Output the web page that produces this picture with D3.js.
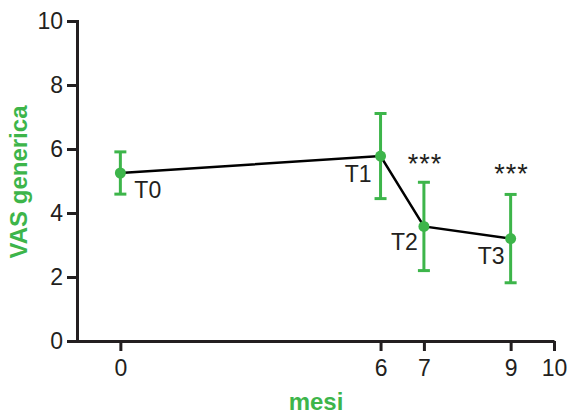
<!DOCTYPE html>
<html>
<head>
<meta charset="utf-8">
<script src="https://cdn.jsdelivr.net/npm/d3@7"></script>
<style>
  body { margin: 0; background: #fff; }
  svg { display: block; font-family: "Liberation Sans", Arial, sans-serif; }
</style>
</head>
<body>
<svg width="567" height="414"></svg>
<script>
// data
var months = [0, 6, 7, 9];
var labels = ["T0", "T1", "T2", "T3"];
var means = [5.25, 5.78, 3.58, 3.2];
var errs = [0.66, 1.33, 1.38, 1.38];
var stars = ["", "", "***", "***"];
var xTicks = [0, 6, 7, 9, 10];
var yTicks = [0, 2, 4, 6, 8, 10];

var green = "#3db54a";
var ink = "#231f20";

var svg = d3.select("svg");

var x = d3.scaleLinear().domain([-1, 10]).range([77, 554]);
var y = d3.scaleLinear().domain([0, 10]).range([341, 21]);

// y axis
var yAxis = svg.append("g")
    .attr("transform", "translate(77,0)")
    .call(d3.axisLeft(y).tickValues(yTicks).tickSize(10).tickSizeOuter(0).tickPadding(4));
// x axis
var xAxis = svg.append("g")
    .attr("transform", "translate(0,341)")
    .call(d3.axisBottom(x).tickValues(xTicks).tickSize(10).tickSizeOuter(0).tickPadding(9));

[yAxis, xAxis].forEach(function(a) {
    a.selectAll("path, line").attr("stroke", ink).attr("stroke-width", 3);
    a.selectAll("text").attr("fill", ink).style("font-size", "23px").style("font-family", "Liberation Sans, Arial, sans-serif");
});
yAxis.select(".domain").attr("stroke-linecap", "square");

// connecting line
var line = d3.line()
    .x(function(d, i) { return x(months[i]); })
    .y(function(d) { return y(d); });
svg.append("path")
    .datum(means)
    .attr("d", line)
    .attr("fill", "none")
    .attr("stroke", "#000")
    .attr("stroke-width", 2.5);

// error bars
var eb = svg.append("g").selectAll("g")
    .data(means)
    .enter().append("g")
    .attr("stroke", green)
    .attr("stroke-width", 3);
eb.append("line")
    .attr("x1", function(d, i) { return x(months[i]); })
    .attr("x2", function(d, i) { return x(months[i]); })
    .attr("y1", function(d, i) { return y(d + errs[i]); })
    .attr("y2", function(d, i) { return y(d - errs[i]); });
eb.append("line")
    .attr("x1", function(d, i) { return x(months[i]) - 6; })
    .attr("x2", function(d, i) { return x(months[i]) + 6; })
    .attr("y1", function(d, i) { return y(d + errs[i]); })
    .attr("y2", function(d, i) { return y(d + errs[i]); });
eb.append("line")
    .attr("x1", function(d, i) { return x(months[i]) - 6; })
    .attr("x2", function(d, i) { return x(months[i]) + 6; })
    .attr("y1", function(d, i) { return y(d - errs[i]); })
    .attr("y2", function(d, i) { return y(d - errs[i]); });

svg.append("g").selectAll("circle")
    .data(means)
    .enter().append("circle")
    .attr("cx", function(d, i) { return x(months[i]); })
    .attr("cy", function(d) { return y(d); })
    .attr("r", 5.5)
    .attr("fill", green);

// point labels
var labOff = [[14, 25, "start"], [-9, 26, "end"], [-6, 24, "end"], [-6, 25, "end"]];
svg.append("g").selectAll("text")
    .data(labels)
    .enter().append("text")
    .attr("x", function(d, i) { return x(months[i]) + labOff[i][0]; })
    .attr("y", function(d, i) { return y(means[i]) + labOff[i][1]; })
    .attr("text-anchor", function(d, i) { return labOff[i][2]; })
    .attr("fill", ink)
    .style("font-size", "23px")
    .text(function(d) { return d; });

// significance stars
var starOff = [0, 0, -9, -11];
svg.append("g").selectAll("text")
    .data(stars)
    .enter().append("text")
    .attr("x", function(d, i) { return x(months[i]) + 1; })
    .attr("y", function(d, i) { return y(means[i] + errs[i]) + starOff[i]; })
    .attr("text-anchor", "middle")
    .attr("fill", ink)
    .style("font-size", "27px")
    .style("letter-spacing", "1px")
    .text(function(d) { return d; });

// axis titles
svg.append("text")
    .attr("transform", "translate(27,182) rotate(-90)")
    .attr("text-anchor", "middle")
    .attr("fill", green)
    .style("font-size", "24px")
    .style("font-weight", "bold")
    .text("VAS generica");
svg.append("text")
    .attr("x", 316)
    .attr("y", 410)
    .attr("text-anchor", "middle")
    .attr("fill", green)
    .style("font-size", "24px")
    .style("font-weight", "bold")
    .text("mesi");
</script>
</body>
</html>
